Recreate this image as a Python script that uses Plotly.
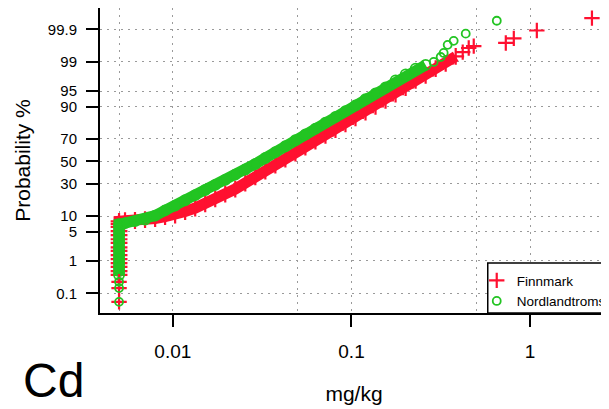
import plotly.graph_objects as go
from statistics import NormalDist

# ---------------- data (mg/kg, cumulative probability %) ----------------
fin_band_mgkg = [0.005]*15 + [
    0.0054, 0.00614, 0.00699, 0.00796, 0.00905, 0.0103, 0.01172, 0.01334, 0.01518,
    0.01727, 0.01965, 0.02236, 0.02544, 0.02895, 0.03294, 0.03748, 0.04265, 0.04853,
    0.05521, 0.06283, 0.07149, 0.08134, 0.09255, 0.1053, 0.1198, 0.1363, 0.1551,
    0.1765, 0.2009, 0.2285, 0.26, 0.2959, 0.3367, 0.3831]
fin_band_pct = [0.39, 0.51, 0.67, 0.86, 1.1, 1.4, 1.8, 2.2, 2.8, 3.4, 4.2, 5.1, 6.2, 7.1, 8.0] + [
    8.2, 8.3, 8.6, 9.0, 9.8, 10.4, 12.0, 13.7, 15.9,
    18.9, 22.2, 25.8, 30.6, 35.7, 41.0, 46.5, 52.1, 57.7,
    63.1, 68.1, 72.8, 77.1, 81.0, 84.5, 87.5, 90.1, 92.3,
    94.2, 95.8, 97.1, 97.8, 98.5, 98.9, 99.3]
fin_tail_mgkg = [0.005, 0.005, 0.005, 0.4194, 0.4531, 0.4834, 0.7307, 0.8102, 1.09, 2.218]
fin_tail_pct = [0.05, 0.15, 0.24, 99.47, 99.60, 99.65, 99.72, 99.80, 99.89, 99.96]

nor_band_mgkg = [0.005]*14 + [
    0.0054, 0.00614, 0.00699, 0.00796, 0.00905, 0.0103, 0.01172, 0.01334, 0.01518,
    0.01727, 0.01965, 0.02236, 0.02544, 0.02895, 0.03294, 0.03748, 0.04265, 0.04853,
    0.05521, 0.06283, 0.07149, 0.08134, 0.09255, 0.1053, 0.1198, 0.1363, 0.1551,
    0.1765, 0.2009, 0.2285, 0.26]
nor_band_pct = [0.39, 0.51, 0.67, 0.86, 1.1, 1.4, 1.8, 2.2, 2.8, 3.4, 4.2, 5.1, 6.2, 7.1] + [
    7.4, 8.1, 8.6, 10.2, 12.5, 15.0, 18.1, 21.4, 25.1,
    29.0, 33.2, 37.7, 42.4, 47.5, 53.1, 58.5, 63.8, 68.9,
    73.5, 77.8, 81.7, 85.1, 88.0, 90.5, 92.7, 94.4, 95.8,
    97.1, 97.9, 98.5, 98.8]
nor_tail_mgkg = [0.005, 0.005, 0.005, 0.2884, 0.3156, 0.3281, 0.3454, 0.3733, 0.4359, 0.6506]
nor_tail_pct = [0.05, 0.15, 0.24, 99.0, 99.27, 99.44, 99.68, 99.76, 99.86, 99.95]

y_tick_pct = [0.1, 1, 5, 10, 30, 50, 70, 90, 95, 99, 99.9]
y_tick_text = ["0.1", "1", "5", "10", "30", "50", "70", "90", "95", "99", "99.9"]
x_tick_vals = [0.01, 0.1, 1]
x_tick_text = ["0.01", "0.1", "1"]
x_minor_grid = [0.005, 0.05, 0.5]

# ---------------- helpers ----------------
nd = NormalDist()
def pz(vals):
    return [nd.inv_cdf(v / 100.0) for v in vals]

RED = "#FF1030"
GREEN = "#22C422"
FONT = "Liberation Sans, Arial, sans-serif"
GRID = "#9a9a9a"
DASH = "2px,5px"

fig = go.Figure()
fig.add_trace(go.Scatter(
    x=fin_band_mgkg, y=pz(fin_band_pct), mode="lines+markers", showlegend=False,
    line=dict(color=RED, width=11),
    marker=dict(symbol="cross-thin", size=12, line=dict(color=RED, width=2.2)),
    hoverinfo="skip"))
fig.add_trace(go.Scatter(
    x=nor_band_mgkg, y=pz(nor_band_pct), mode="lines+markers", showlegend=False,
    line=dict(color=GREEN, width=11),
    marker=dict(symbol="circle-open", size=10, line=dict(color=GREEN, width=1.8)),
    hoverinfo="skip"))
fig.add_trace(go.Scatter(
    x=fin_tail_mgkg, y=pz(fin_tail_pct), mode="markers", name="Finnmark",
    marker=dict(symbol="cross-thin", size=11, color=RED, line=dict(color=RED, width=2.2))))
fig.add_trace(go.Scatter(
    x=nor_tail_mgkg, y=pz(nor_tail_pct), mode="markers", name="Nordlandtroms",
    marker=dict(symbol="circle-open", size=8, color=GREEN, line=dict(color=GREEN, width=1.8))))

# the page body has an 8px default margin, so the figure is sized to fill the rest
fig.update_layout(
    width=601, height=401,
    margin=dict(l=92, r=1, t=0, b=96, autoexpand=False),
    paper_bgcolor="white", plot_bgcolor="white",
    font=dict(family=FONT, color="black"),
    showlegend=True,
    legend=dict(x=0.7416, y=0.157, xanchor="left", yanchor="top",
                borderwidth=0, bgcolor="rgba(0,0,0,0)",
                font=dict(size=13.5, family=FONT), itemwidth=30,
                tracegroupgap=0),
    xaxis=dict(
        type="log", range=[-2.4077, 0.4358], automargin=False,
        tickmode="array", tickvals=x_tick_vals, ticktext=x_tick_text,
        ticks="outside", ticklen=12, tickwidth=2, tickcolor="black",
        tickfont=dict(size=19), ticklabelstandoff=8,
        showline=True, linewidth=2, linecolor="black", mirror=True,
        showgrid=True, gridcolor=GRID, griddash=DASH, gridwidth=1,
        minor=dict(tickmode="array", tickvals=x_minor_grid, ticks="",
                   showgrid=True, gridcolor=GRID, griddash=DASH, gridwidth=1),
        zeroline=False,
        title=dict(text="mg/kg", font=dict(size=21), standoff=26)),
    yaxis=dict(
        range=[-3.551, 3.589], automargin=False,
        tickmode="array", tickvals=pz(y_tick_pct), ticktext=y_tick_text,
        ticks="outside", ticklen=12, tickwidth=2, tickcolor="black",
        tickfont=dict(size=15), ticklabelstandoff=6,
        showline=True, linewidth=2, linecolor="black", mirror=True,
        showgrid=True, gridcolor=GRID, griddash=DASH, gridwidth=1,
        zeroline=False,
        title=dict(text="Probability %", font=dict(size=21), standoff=11)),
    shapes=[dict(type="rect", xref="paper", yref="paper",
                 x0=0.7633, x1=1.05, y0=0, y1=0.1639,
                 line=dict(color="black", width=1.5), fillcolor="white",
                 layer="above")],
    annotations=[dict(text="Cd", xref="paper", yref="paper",
                      x=-0.0917, y=-0.2197, xanchor="center", yanchor="middle",
                      showarrow=False, font=dict(size=48, family=FONT))],
)

fig.write_html("out.html")
